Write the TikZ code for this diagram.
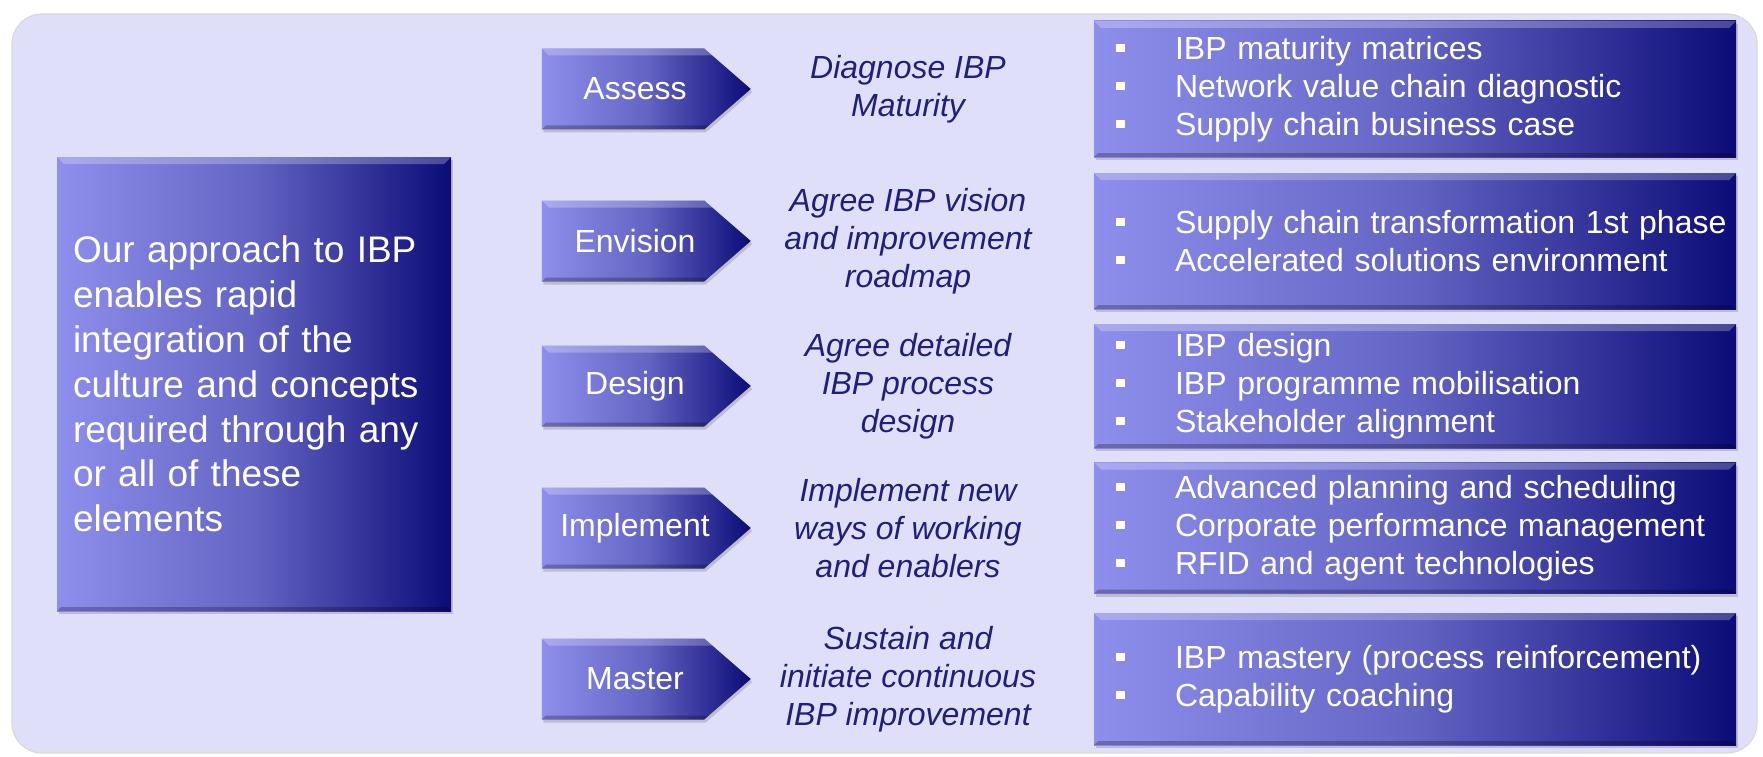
\documentclass[tikz,border=0pt]{standalone}
\usepackage{fontspec}
\setmainfont{Liberation Sans}
\usepackage{tikz}
\usetikzlibrary{shapes.symbols}
\usetikzlibrary{shadows}
\definecolor{panelfill}{RGB}{223,223,250}
\definecolor{gradA}{RGB}{142,142,236}
\definecolor{gradB}{RGB}{100,100,196}
\definecolor{gradC}{RGB}{12,12,120}
\definecolor{descblue}{RGB}{32,32,122}
\pgfdeclarehorizontalshading{boxgrad}{100bp}{color(0bp)=(gradA); color(25bp)=(gradA); color(50bp)=(gradB); color(75bp)=(gradC); color(100bp)=(gradC)}
\newcommand{\itm}{\makebox[80pt][l]{\hspace*{21pt}\raisebox{7pt}{\rule{8.5pt}{8.5pt}}}}
\tikzstyle{bevel}=[path picture={
  \fill[white,opacity=0.25] (path picture bounding box.north west) -- (path picture bounding box.north east)
    -- ([shift={(-7pt,-7pt)}]path picture bounding box.north east) -- ([shift={(7pt,-7pt)}]path picture bounding box.north west) -- cycle;
  \fill[black,opacity=0.25] (path picture bounding box.south west) -- (path picture bounding box.south east)
    -- ([shift={(-4pt,4pt)}]path picture bounding box.south east) -- ([shift={(4pt,4pt)}]path picture bounding box.south west) -- cycle;}]
\tikzstyle{tile}=[shading=boxgrad,bevel,drop shadow={shadow xshift=1.5pt,shadow yshift=-3pt,opacity=0.35},inner sep=0pt,outer sep=0pt]
\tikzstyle{panel}=[rounded corners=30pt,fill=panelfill,draw=black!15,line width=1.2pt]
\tikzstyle{intro}=[tile,minimum width=394pt,minimum height=454pt,text width=362pt,inner xsep=16pt,align=left,text=white,font=\fontsize{37}{44.8}\selectfont]
\tikzstyle{phase}=[tile,signal,signal to=east,signal pointer angle=82,minimum width=209pt,minimum height=81pt]
\tikzstyle{phaselbl}=[text=white,font=\fontsize{32}{38}\selectfont]
\tikzstyle{aim}=[text=descblue,align=center,font=\fontsize{32}{38}\selectfont\itshape]
\tikzstyle{tools}=[tile,minimum width=642pt,text width=640pt,inner xsep=1pt,align=left,text=white,font=\fontsize{32}{38}\selectfont]

\begin{document}
\begin{tikzpicture}[x=1pt,y=-1pt]
  \useasboundingbox[fill=white] (0,0) rectangle (1763,757);
  \draw[panel] (12,14) rectangle (1757,753);
  \node[intro] (intro) at (254,384) {Our approach to IBP\\enables rapid\\integration of the\\culture and concepts\\required through any\\or all of these\\elements};
  \foreach \n/\yc/\h/\lab/\desc/\items in {
    as/89/136/Assess/{Diagnose IBP\\Maturity}/{\itm IBP maturity matrices\\\itm Network value chain diagnostic\\\itm Supply chain business case},
    en/241/136/Envision/{Agree IBP vision\\and improvement\\roadmap}/{\itm Supply chain transformation 1st phase\\\itm Accelerated solutions environment},
    de/386/124/Design/{Agree detailed\\IBP process\\design}/{\itm IBP design\\\itm IBP programme mobilisation\\\itm Stakeholder alignment},
    im/528/131/Implement/{Implement new\\ways of working\\and enablers}/{\itm Advanced planning and scheduling\\\itm Corporate performance management\\\itm RFID and agent technologies},
    ma/679/132/Master/{Sustain and\\initiate continuous\\IBP improvement}/{\itm IBP mastery (process reinforcement)\\\itm Capability coaching}}{
    \node[phase] (\n) at (623,\yc) {};
    \node[phaselbl] (\n-lbl) at ([xshift=12pt]\n.center) {\lab};
    \node[aim] (\n-aim) at (908,\yc) {\desc};
    \node[tools,minimum height=\h pt] (\n-tools) at (1415,\yc) {\items};
  }
\end{tikzpicture}
\end{document}
